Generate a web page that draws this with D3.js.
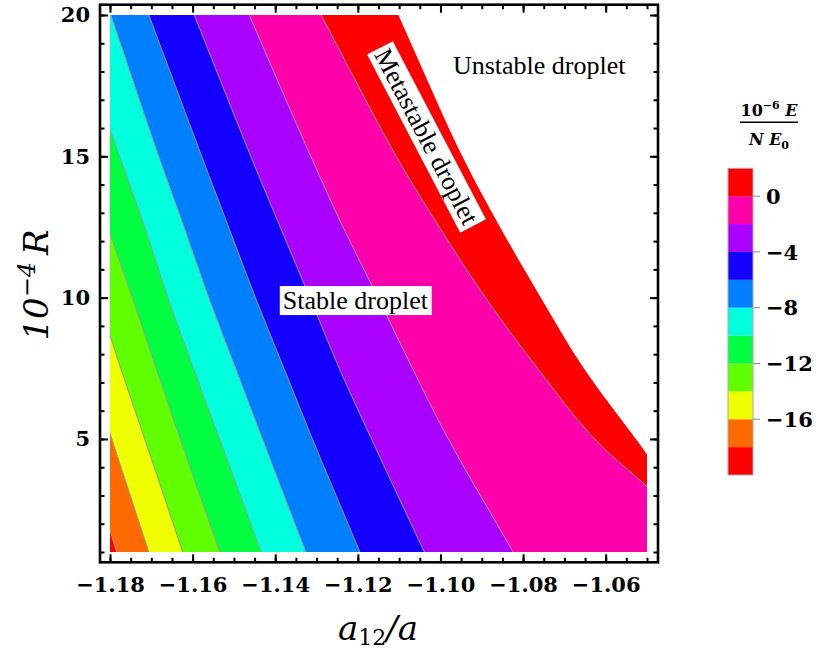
<!DOCTYPE html>
<meta charset="utf-8">
<style>

body {
  margin: 0;
  background: #fff;
}

svg {
  display: block;
}

.axis line {
  stroke: #000;
  stroke-width: 2;
}

.contour-line {
  fill: none;
  stroke: #999;
  stroke-width: 1;
}

.note {
  font-family: "Liberation Serif", serif;
  font-size: 26px;
}

</style>
<svg width="820" height="652"></svg>
<script src="https://cdn.jsdelivr.net/npm/d3@7"></script>
<script>

// band edges of 10^-6 E / (N E0), every band is 2 wide
var bandEdges = [-20, -18, -16, -14, -12, -10, -8, -6, -4, -2, 0, 2];
var bandColors = ["#ff0000", "#ff6a00", "#f0ff00", "#5fff00", "#00ff40", "#00ffdd",
                  "#0080ff", "#1400ff", "#aa00ff", "#ff00aa", "#ff0000"];

// contour lines, points are [a12/a, 10^-4 R]
var lineM18 = [[-1.1784, 1], [-1.1800, 1.76]];
var lineM16 = [[-1.1706, 1], [-1.1800, 5.2]];
var lineM14 = [[-1.1624, 1], [-1.1716, 5], [-1.1774, 7.5], [-1.1800, 8.67]];
var lineM12 = [[-1.1534, 1], [-1.1630, 5], [-1.1688, 7.5], [-1.1746, 10], [-1.1800, 12.27]];
var lineM10 = [[-1.1434, 1], [-1.1535, 5], [-1.1598, 7.5], [-1.1660, 10], [-1.1716, 12.5], [-1.1777, 15], [-1.1800, 15.95]];
var lineM8 = [[-1.1326, 1], [-1.1431, 5], [-1.1496, 7.5], [-1.1561, 10], [-1.1621, 12.5], [-1.1682, 15], [-1.1798, 20]];
var lineM6 = [[-1.1195, 1], [-1.1310, 5], [-1.1379, 7.5], [-1.1448, 10], [-1.1513, 12.5], [-1.1578, 15], [-1.1706, 20]];
var lineM4 = [[-1.1039, 1], [-1.1167, 5], [-1.1245, 7.5], [-1.1316, 10], [-1.1388, 12.5], [-1.1459, 15], [-1.1596, 20]];
var lineM2 = [[-1.0824, 1], [-1.0981, 5], [-1.1068, 7.5], [-1.1151, 10], [-1.1236, 12.5], [-1.1314, 15], [-1.1463, 20]];
var line0 = [[-1.0500, 3.32], [-1.0627, 5], [-1.0765, 7.5], [-1.0891, 10], [-1.1003, 12.5], [-1.1107, 15], [-1.1289, 20]];
// edge between the metastable and the unstable droplet
var unstableEdge = [[-1.0500, 4.46], [-1.0527, 5], [-1.0653, 7.5], [-1.0757, 10], [-1.0856, 12.5], [-1.0947, 15], [-1.1102, 20]];

var contourLines = [lineM18, lineM16, lineM14, lineM12, lineM10, lineM8, lineM6, lineM4, lineM2, line0];

var xTicks = [-1.18, -1.16, -1.14, -1.12, -1.10, -1.08, -1.06];
var yTicks = [5, 10, 15, 20];
var legendTicks = [0, -4, -8, -12, -16];

var svg = d3.select("svg");

var x = d3.scaleLinear().domain([-1.18, -1.05]).range([110, 647]);
var y = d3.scaleLinear().domain([1, 20]).range([552, 15]);

// frame sits a little outside the plotted range
var frame = {left: 100, right: 658, top: 4.7, bottom: 562.3};

svg.append("clipPath")
    .attr("id", "plot-clip")
  .append("rect")
    .attr("x", x(-1.18))
    .attr("y", y(20))
    .attr("width", x(-1.05) - x(-1.18))
    .attr("height", y(1) - y(20));

var line = d3.line()
    .x(function(d) { return x(d[0]); })
    .y(function(d) { return y(d[1]); })
    .curve(d3.curveCatmullRom.alpha(0.5));

// stretch both ends of a contour past the plot range
function extend(pts) {
  var a = pts[0], b = pts[1], c = pts[pts.length - 2], d = pts[pts.length - 1];
  var lo = [a[0] + (b[0] - a[0]) / (b[1] - a[1]) * (-2 - a[1]), -2];
  var hi = [d[0] + (d[0] - c[0]) / (d[1] - c[1]) * (23 - d[1]), 23];
  return [lo].concat(pts, [hi]);
}

// region with lower values, i.e. left of the contour
function leftOf(pts) {
  return line(extend(pts)) + "L" + x(-1.4) + "," + y(23) + "L" + x(-1.4) + "," + y(-2) + "Z";
}

var plot = svg.append("g").attr("clip-path", "url(#plot-clip)");

var boundaries = contourLines.concat([unstableEdge]);

// paint from the highest band down, each one covers the part left of its edge
plot.selectAll("path.band")
  .data(d3.range(boundaries.length).reverse())
  .enter().append("path")
    .attr("class", "band")
    .attr("d", function(i) { return leftOf(boundaries[i]); })
    .style("fill", function(i) { return bandColors[i]; });

plot.selectAll("path.contour-line")
  .data(contourLines)
  .enter().append("path")
    .attr("class", "contour-line")
    .attr("d", function(d) { return line(extend(d)); });

// axes on all four sides, ticks point inward
var minorX = d3.range(0, 27).map(function(i) { return -1.18 + i * 0.005; });
var minorY = d3.range(1, 21);

function boldNum(sel) {
  sel.style("font-family", "'DejaVu Serif', serif")
      .style("font-weight", "bold")
      .style("font-size", "21px")
      .style("fill", "#000");
}

function addAxis(axis, tx, ty, labels) {
  var g = svg.append("g")
      .attr("class", "axis")
      .attr("transform", "translate(" + tx + "," + ty + ")")
      .call(axis);
  g.select(".domain").remove();
  if (!labels) g.selectAll("text").remove();
  g.selectAll("text").call(boldNum);
  return g;
}

function minusFmt(d, f) {
  return d < 0 ? "\u2212" + f(-d) : f(d);
}

addAxis(d3.axisBottom(x).tickValues(minorX).tickSize(-4.5).tickFormat(""), 0, frame.bottom, false);
addAxis(d3.axisBottom(x).tickValues(xTicks).tickSize(-8).tickPadding(15)
    .tickFormat(function(d) { return minusFmt(d, d3.format(".2f")); }), 0, frame.bottom, true);
addAxis(d3.axisTop(x).tickValues(minorX).tickSize(-4.5), 0, frame.top, false);
addAxis(d3.axisTop(x).tickValues(xTicks).tickSize(-8), 0, frame.top, false);

addAxis(d3.axisLeft(y).tickValues(minorY).tickSize(-4.5).tickFormat(""), frame.left, 0, false);
addAxis(d3.axisLeft(y).tickValues(yTicks).tickSize(-8).tickPadding(10), frame.left, 0, true);
addAxis(d3.axisRight(y).tickValues(minorY).tickSize(-4.5), frame.right, 0, false);
addAxis(d3.axisRight(y).tickValues(yTicks).tickSize(-8), frame.right, 0, false);

svg.append("rect")
    .attr("x", frame.left)
    .attr("y", frame.top)
    .attr("width", frame.right - frame.left)
    .attr("height", frame.bottom - frame.top)
    .style("fill", "none")
    .style("stroke", "#000")
    .style("stroke-width", 2.6);

// region labels, white boxes behind the ones that sit on colour
function note(cx, cy, angle, text, boxed) {
  var g = svg.append("g")
      .attr("transform", "translate(" + x(cx) + "," + y(cy) + ") rotate(" + angle + ")");
  var rect = g.append("rect").style("fill", boxed ? "#fff" : "none");
  var t = g.append("text")
      .attr("class", "note")
      .attr("text-anchor", "middle")
      .attr("dy", "0.33em")
      .text(text);
  var b = t.node().getBBox();
  rect.attr("x", b.x - 3).attr("y", b.y)
      .attr("width", b.width + 6).attr("height", b.height);
}

note(-1.0761, 18.2, 0, "Unstable droplet", false);
note(-1.1206, 9.9, 0, "Stable droplet", true);
note(-1.1034, 15.7, 62.4, "Metastable droplet", true);

// axis titles
var ylab = svg.append("text")
    .attr("transform", "translate(48,285) rotate(-90)")
    .attr("text-anchor", "middle")
    .style("font-family", "DejaVu Serif")
    .style("font-style", "italic")
    .style("font-size", "34px");
ylab.append("tspan").text("10");
ylab.append("tspan").attr("dy", -13).style("font-size", "24px").text("\u22124");
ylab.append("tspan").attr("dy", 13).text("\u2009R");

var xlab = svg.append("text")
    .attr("x", 378)
    .attr("y", 640)
    .attr("text-anchor", "middle")
    .style("font-family", "DejaVu Serif")
    .style("font-style", "italic")
    .style("font-size", "34px");
xlab.append("tspan").text("a");
xlab.append("tspan").attr("dy", 5).style("font-size", "22px").style("font-style", "normal").text("12");
xlab.append("tspan").attr("dy", -5).text("/a");

// colour bar legend
var legendY = d3.scaleLinear().domain([-20, 2]).range([475, 168.3]);
var legend = svg.append("g").attr("transform", "translate(728,0)");

legend.selectAll("rect.swatch")
  .data(bandColors)
  .enter().append("rect")
    .attr("class", "swatch")
    .attr("x", 0)
    .attr("width", 25)
    .attr("y", function(d, i) { return legendY(bandEdges[i + 1]); })
    .attr("height", function(d, i) { return legendY(bandEdges[i]) - legendY(bandEdges[i + 1]); })
    .style("fill", function(d) { return d; });

legend.append("rect")
    .attr("width", 25)
    .attr("y", legendY(2))
    .attr("height", legendY(-20) - legendY(2))
    .style("fill", "none")
    .style("stroke", "#aaa")
    .style("stroke-width", 1);

var lt = legend.selectAll("g.ltick")
  .data(legendTicks)
  .enter().append("g")
    .attr("class", "ltick")
    .attr("transform", function(d) { return "translate(0," + legendY(d) + ")"; });

lt.append("line")
    .attr("x1", 25).attr("x2", 32)
    .style("stroke", "#888");

lt.append("text")
    .attr("x", 38)
    .attr("dy", "0.36em")
    .call(boldNum)
    .text(function(d) { return minusFmt(d, String); });

// legend title, a stacked fraction
var title = svg.append("g")
    .attr("transform", "translate(769,0)")
    .style("font-family", "DejaVu Serif")
    .style("font-weight", "bold")
    .style("font-size", "16px");

var num = title.append("text").attr("y", 116).attr("text-anchor", "middle");
num.append("tspan").text("10");
num.append("tspan").attr("dy", -7).style("font-size", "11px").text("\u22126");
num.append("tspan").attr("dy", 7).style("font-style", "italic").text(" E");

title.append("line")
    .attr("x1", -29).attr("x2", 29)
    .attr("y1", 122.3).attr("y2", 122.3)
    .style("stroke", "#000")
    .style("stroke-width", 1.5);

var den = title.append("text").attr("y", 145).attr("text-anchor", "middle");
den.append("tspan").style("font-style", "italic").text("N E");
den.append("tspan").attr("dy", 4).style("font-size", "11px").text("0");

</script>
